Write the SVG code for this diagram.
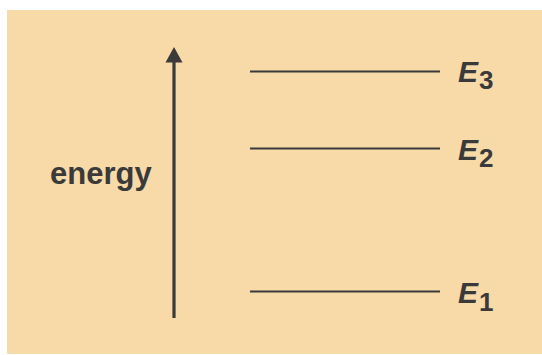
<svg xmlns="http://www.w3.org/2000/svg" width="542" height="355" viewBox="0 0 542 355">
<style>
.lvl{stroke:#3a3a3a;stroke-width:2.2;fill:none}
.lab{font-family:"Liberation Sans",Arial,sans-serif;fill:#3a3a3a;font-weight:bold}
.E{font-size:30px;font-style:italic}
.sub{font-size:26px}
</style>
<rect x="0" y="0" width="542" height="355" fill="#ffffff"/>
<rect x="7" y="10" width="535" height="344" fill="#F8D9A8"/>
<g id="connectors">
<line x1="174" y1="318" x2="174" y2="60" stroke="#3a3a3a" stroke-width="3.2"/>
<polygon points="174,47 165.5,62.5 182.5,62.5" fill="#3a3a3a"/>
</g>
<g id="energy-label"><text class="lab" x="50" y="184" font-size="31">energy</text></g>
<g id="level-E3"><line class="lvl" x1="250" y1="71.5" x2="440" y2="71.5"/><text class="lab" x="458" y="82"><tspan class="E">E</tspan><tspan class="sub" dx="1" dy="7">3</tspan></text></g>
<g id="level-E2"><line class="lvl" x1="250" y1="148.5" x2="440" y2="148.5"/><text class="lab" x="458" y="160"><tspan class="E">E</tspan><tspan class="sub" dx="1" dy="7">2</tspan></text></g>
<g id="level-E1"><line class="lvl" x1="250" y1="291.5" x2="440" y2="291.5"/><text class="lab" x="458" y="303"><tspan class="E">E</tspan><tspan class="sub" dx="1" dy="8">1</tspan></text></g>
</svg>
